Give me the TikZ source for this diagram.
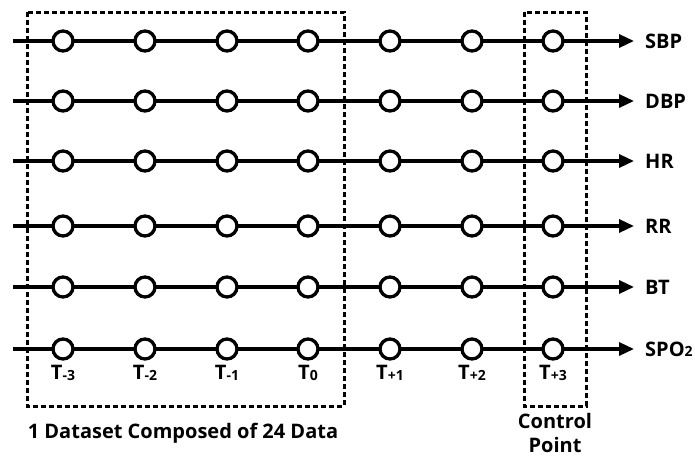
\documentclass[tikz,border=0pt]{standalone}
\usepackage{fontspec}
\setmainfont{Open Sans}
\usetikzlibrary{arrows.meta}
\begin{document}
\begin{tikzpicture}[x=1pt,y=-1pt,
  dot/.style={circle,draw,line width=3.3pt,fill=white,minimum size=20pt,inner sep=0pt},
  tline/.style={line width=3.3pt,-{Triangle[length=15pt,width=13pt]}},
  dbox/.style={line width=3pt,dash pattern=on 5pt off 3pt},
  lab/.style={font=\bfseries\fontsize{20}{22}\selectfont,inner sep=0pt},
  tlab/.style={font=\bfseries\fontsize{20}{22}\selectfont,inner sep=0pt}]
\useasboundingbox (0,0) rectangle (695,458);
\foreach \n/\y/\t in {1/41/SBP,2/101/DBP,3/161/HR,4/226/RR,5/287/BT,6/349/SPO{\fontsize{14}{16}\selectfont 2}}{
  \coordinate (s\n) at (13,\y);
  \coordinate (e\n) at (634,\y);
  \draw[tline] (s\n) -- (e\n);
  \node[lab,anchor=west] (l\n) at (645,\y) {\t};
  \foreach \i/\x in {1/63,2/145,3/227,4/308,5/390,6/472,7/553}{
    \node[dot] (c\n-\i) at (\x,\y) {};
  }
}
\draw[dbox] (27,12) rectangle (344,406);
\draw[dbox] (524,12) rectangle (586,406);
\foreach \i/\x/\s in {1/63/-3,2/145/-2,3/227/-1,4/308/0,5/390/+1,6/472/+2,7/553/+3}{
  \node[tlab] (t\i) at (\x,373) {T\raisebox{-1pt}{\fontsize{14}{16}\selectfont\s}};
}
\node[lab] (ds) at (183,433) {1 Dataset Composed of 24 Data};
\node[lab,align=center,font=\bfseries\fontsize{20}{24}\selectfont] (cp) at (555,433) {Control\\Point};
\end{tikzpicture}
\end{document}
